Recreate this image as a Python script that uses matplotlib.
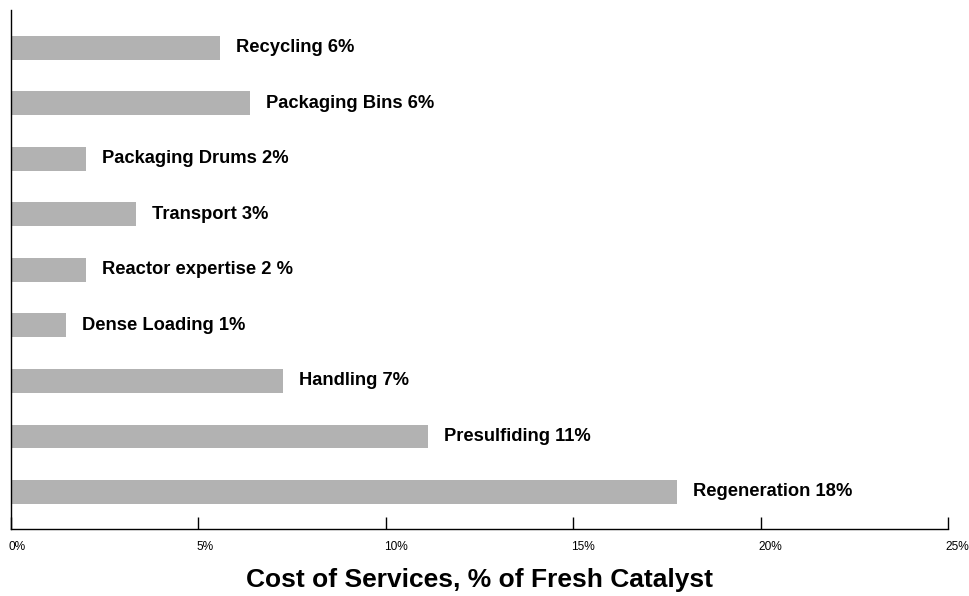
import matplotlib.pyplot as plt

plt.rcParams['font.family'] = ['Liberation Sans', 'DejaVu Sans']

# bottom to top
services = ['Regeneration', 'Presulfiding', 'Handling', 'Dense Loading',
            'Reactor expertise', 'Transport', 'Packaging Drums',
            'Packaging Bins', 'Recycling']
costs = [17.77, 11.13, 7.26, 1.47, 2.0, 3.34, 2.0, 6.38, 5.58]
labels = ['Regeneration 18%', 'Presulfiding 11%', 'Handling 7%',
          'Dense Loading 1%', 'Reactor expertise 2 %', 'Transport 3%',
          'Packaging Drums 2%', 'Packaging Bins 6%', 'Recycling 6%']
xticks = [0, 5, 10, 15, 20, 25]

fig = plt.figure(figsize=(9.69, 5.96), dpi=100)
ax = fig.add_axes([11 / 969, 67 / 596, 937 / 969, 519 / 596])

pos = list(range(len(services)))
ax.barh(pos, costs, height=0.43, color='#b2b2b2', left=0)

for p, c, lab in zip(pos, costs, labels):
    ax.annotate(lab, (c, p), xytext=(11.5, 0), textcoords='offset points',
                ha='left', va='center', fontsize=13.2, fontweight='bold')

ax.set_xlim(0, 25)
ax.set_ylim(-0.667, 8.68)
ax.set_xticks(xticks)
ax.set_xticklabels([])
# tick labels sit just right of their ticks, as in the original
for t in xticks:
    ax.annotate(f'{t}%', (t, 0), xycoords=('data', 'axes fraction'),
                xytext=(-1.5, -9), textcoords='offset points',
                ha='left', va='top', fontsize=8.6)
ax.set_yticks([])
ax.tick_params(axis='x', direction='in', length=9, width=1)
for s in ['top', 'right']:
    ax.spines[s].set_visible(False)
ax.spines['left'].set_linewidth(1)
ax.spines['bottom'].set_linewidth(1)

ax.set_xlabel('Cost of Services, % of Fresh Catalyst', fontsize=19,
              fontweight='bold', labelpad=24.5)

fig.savefig('out.png', dpi=100)
